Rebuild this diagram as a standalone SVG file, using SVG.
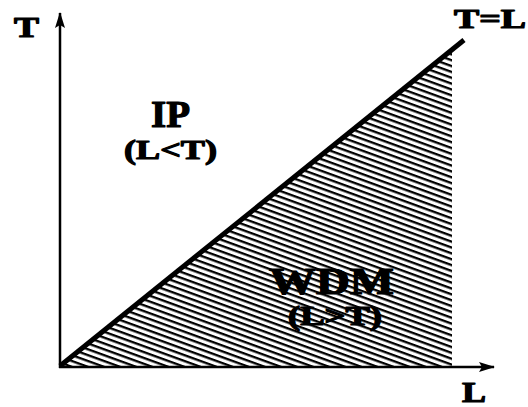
<svg xmlns="http://www.w3.org/2000/svg" width="528" height="407" viewBox="0 0 528 407">
<style>
.lbl{font-family:"Liberation Serif","Times New Roman",serif;font-weight:bold;fill:#000;stroke:#000;stroke-width:1.2;stroke-linejoin:round}
.axis{stroke:#000;stroke-width:2.5;fill:none}
</style>
<defs>
<pattern id="hatch" patternUnits="userSpaceOnUse" width="10" height="5.5" patternTransform="rotate(20)">
<rect x="0" y="0" width="10" height="2.3" fill="#000"/>
</pattern>
<marker id="arr" viewBox="0 0 16 10" refX="15" refY="5" markerWidth="16" markerHeight="10" markerUnits="userSpaceOnUse" orient="auto">
<path d="M0,0 L16,5 L0,10 L3,5 Z" fill="#000"/>
</marker>
</defs>
<rect width="528" height="407" fill="#fff"/>
<g id="region-wdm">
<polygon points="60,367 452,50 452,367" fill="url(#hatch)"/>
</g>
<g id="connectors">
<line class="axis" x1="60" y1="368" x2="60" y2="13" marker-end="url(#arr)"/>
<line class="axis" x1="59" y1="367" x2="494" y2="367" marker-end="url(#arr)"/>
<line x1="60" y1="366" x2="464" y2="40" stroke="#000" stroke-width="5"/>
</g>
<g id="label-T"><text class="lbl" x="14" y="37" font-size="29" textLength="25" lengthAdjust="spacingAndGlyphs">T</text></g>
<g id="label-TL"><text class="lbl" x="454" y="28" font-size="27" textLength="72" lengthAdjust="spacingAndGlyphs">T=L</text></g>
<g id="label-L"><text class="lbl" x="462" y="402" font-size="29" textLength="24" lengthAdjust="spacingAndGlyphs">L</text></g>
<g id="node-ip">
<text class="lbl" x="151" y="127" font-size="38" textLength="39" lengthAdjust="spacingAndGlyphs">IP</text>
<text class="lbl" x="124" y="159" font-size="28" textLength="93" lengthAdjust="spacingAndGlyphs">(L&lt;T)</text>
</g>
<g id="node-wdm">
<text class="lbl" x="269" y="294" font-size="38" textLength="125" lengthAdjust="spacingAndGlyphs">WDM</text>
<text class="lbl" x="288" y="325" font-size="27" textLength="94" lengthAdjust="spacingAndGlyphs">(L&gt;T)</text>
</g>
</svg>
